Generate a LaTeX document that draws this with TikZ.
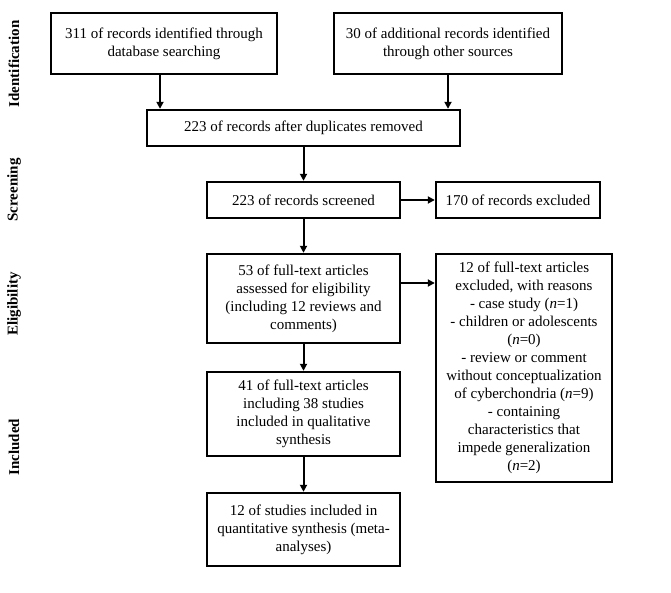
\documentclass[tikz,border=0pt]{standalone}
\usepackage{fontspec}
\setmainfont{Liberation Serif}
\usetikzlibrary{arrows.meta}
\begin{document}
\begin{tikzpicture}[x=1pt,y=-1pt,
  box/.style={draw, line width=2.4pt, align=center, inner sep=0pt, font=\fontsize{15}{18}\selectfont},
  arr/.style={line width=2pt, -{Triangle[length=7pt,width=7pt]}},
  lab/.style={rotate=90, font=\fontsize{15}{18}\selectfont\bfseries}]
\useasboundingbox (0,0) rectangle (671,593);
\node[box, minimum width=226pt, minimum height=61pt] (A) at (164,43.5) {311 of records identified through\\database searching};
\node[box, minimum width=228pt, minimum height=61pt] (B) at (448,43.5) {30 of additional records identified\\through other sources};
\node[box, minimum width=313pt, minimum height=36pt] (C) at (303.5,128) {223 of records after duplicates removed};
\node[box, minimum width=193pt, minimum height=36pt] (S) at (303.5,200) {223 of records screened};
\node[box, minimum width=164pt, minimum height=36pt] (X) at (518,200) {170 of records excluded};
\node[box, minimum width=193pt, minimum height=89pt] (E) at (303.5,298.5) {53 of full-text articles\\assessed for eligibility\\(including 12 reviews and\\comments)};
\node[box, minimum width=176pt, minimum height=228pt] (R) at (524,368) {12 of full-text articles\\excluded, with reasons\\- case study (\textit{n}=1)\\- children or adolescents\\(\textit{n}=0)\\- review or comment\\without conceptualization\\of cyberchondria (\textit{n}=9)\\- containing\\characteristics that\\impede generalization\\(\textit{n}=2)};
\node[box, minimum width=193pt, minimum height=84pt] (Q) at (303.5,414) {41 of full-text articles\\including 38 studies\\included in qualitative\\synthesis};
\node[box, minimum width=193pt, minimum height=73pt] (M) at (303.5,529.5) {12 of studies included in\\quantitative synthesis (meta-\\analyses)};
\node[lab] (L1) at (14,64) {Identification};
\node[lab] (L2) at (14,190) {Screening};
\node[lab] (L3) at (14,304) {Eligibility};
\node[lab] (L4) at (14,447) {Included};
\draw[arr] ([xshift=-4pt]A.south) -- ([xshift=-4pt]A.south |- C.north);
\draw[arr] (B.south) -- (B.south |- C.north);
\draw[arr] (C.south) -- (S.north);
\draw[arr] (S.east) -- (X.west);
\draw[arr] (S.south) -- (E.north);
\draw[arr] ([yshift=15.5pt]E.east) -- ([yshift=15.5pt]E.east -| R.west);
\draw[arr] (E.south) -- (Q.north);
\draw[arr] (Q.south) -- (M.north);
\end{tikzpicture}
\end{document}
